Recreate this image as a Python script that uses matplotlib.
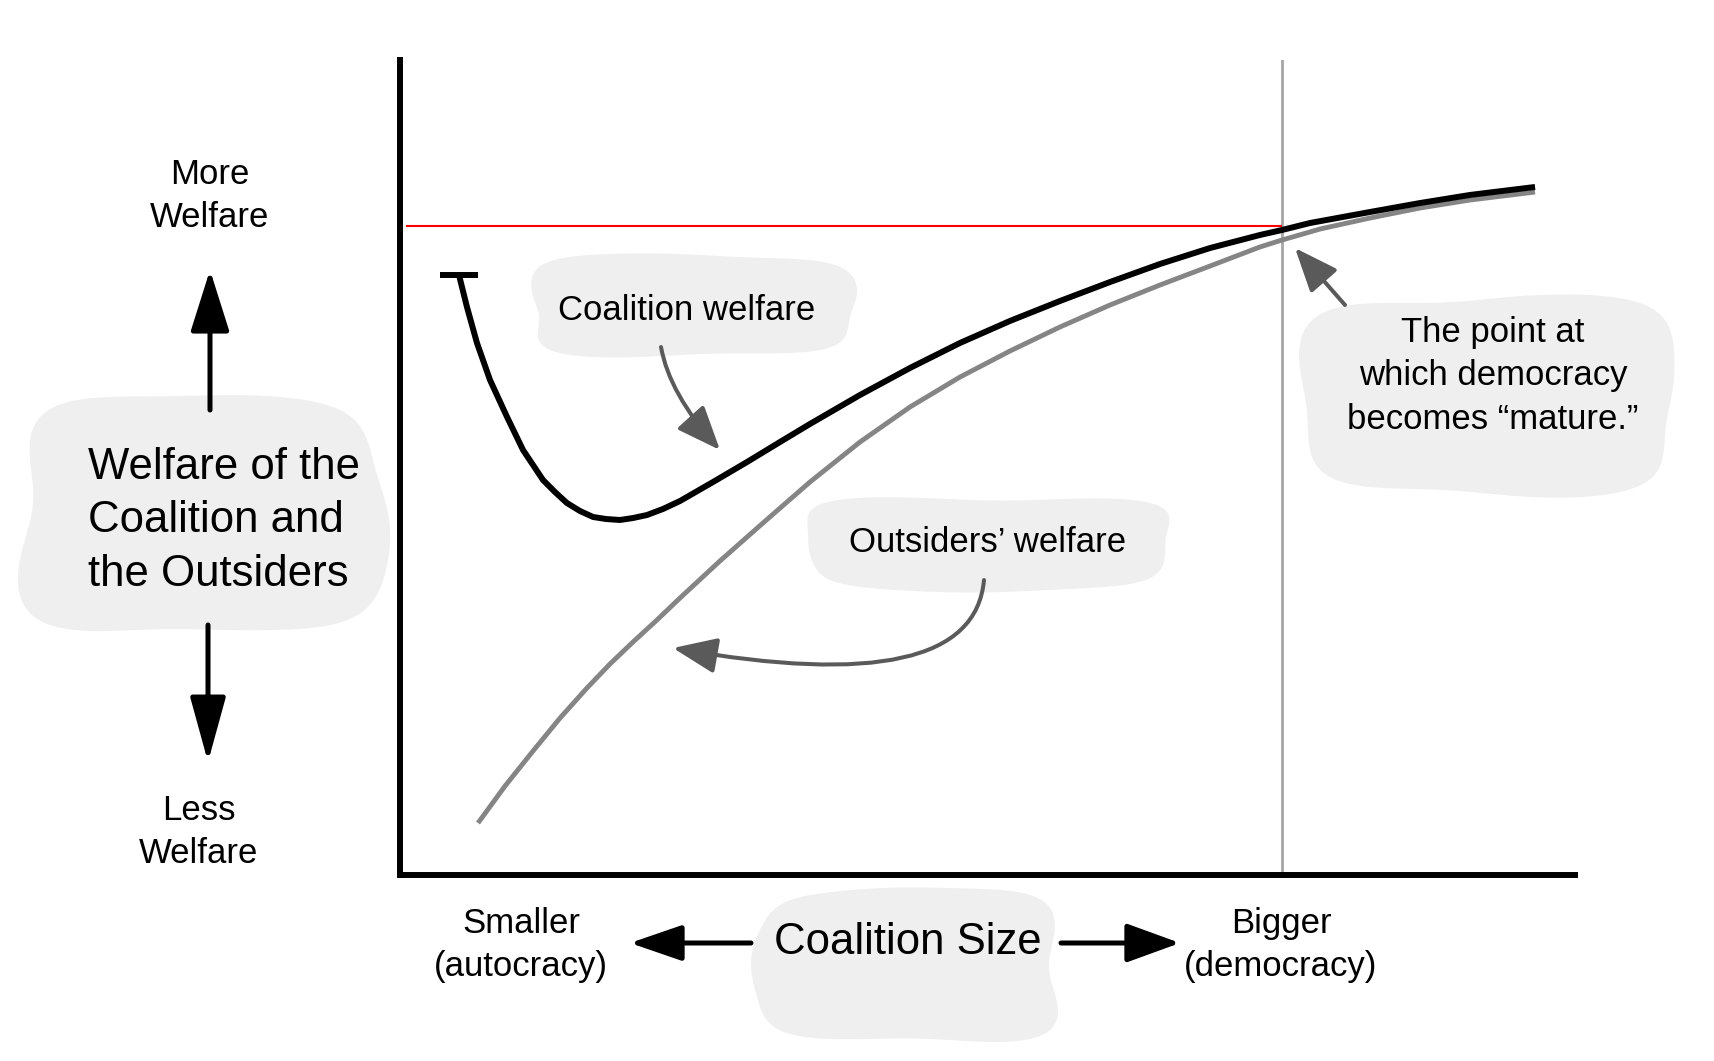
import numpy as np
import matplotlib
matplotlib.use("Agg")
import matplotlib.pyplot as plt
from matplotlib.patches import Polygon, FancyArrowPatch

# coalition size (0-100) vs welfare (0-100)
coalition_x = [5.02, 5.70, 6.55, 7.66, 9.11, 10.47, 12.17, 13.19, 14.21, 15.32, 16.43,
               17.53, 18.72, 19.83, 21.02, 22.38, 23.83, 26.64, 29.53, 32.34, 34.89,
               39.15, 43.40, 47.66, 51.91, 56.17, 60.43, 64.68, 68.94, 73.19, 75.06,
               77.45, 82.55, 86.81, 91.06, 96.60]
coalition_y = [73.62, 69.69, 65.28, 60.74, 56.20, 52.15, 48.47, 46.99, 45.64, 44.66, 43.93,
               43.68, 43.56, 43.80, 44.17, 44.91, 45.89, 48.22, 50.67, 53.13, 55.34,
               58.90, 62.21, 65.28, 67.98, 70.43, 72.76, 74.97, 76.93, 78.53, 79.14,
               80.00, 81.35, 82.45, 83.44, 84.42]

outsiders_x = [6.64, 8.94, 11.32, 13.62, 15.91, 17.87, 19.83, 21.87, 23.83, 27.23, 30.89,
               34.89, 39.15, 43.40, 47.66, 51.91, 56.17, 60.43, 64.68, 68.94, 73.19,
               75.06, 78.30, 82.55, 86.81, 91.06, 96.60]
outsiders_y = [6.38, 10.92, 15.21, 19.26, 22.94, 25.89, 28.59, 31.29, 33.99, 38.53, 43.19,
               48.22, 53.13, 57.42, 61.10, 64.29, 67.24, 69.94, 72.39, 74.72, 77.06,
               77.91, 79.26, 80.61, 81.84, 82.82, 83.80]

mature_x = 75.1
mature_welfare = 79.6

FONT = "Liberation Sans"
BLOB = "#efefef"
ARROW_GREY = "#5a5a5a"

fig = plt.figure(figsize=(17.15, 10.61), dpi=100)

# background layer in pixel units for the hand-drawn labels
bg = fig.add_axes([0, 0, 1, 1])
bg.set_xlim(0, 1715)
bg.set_ylim(1061, 0)
bg.axis("off")

ax = fig.add_axes([400 / 1715, 186 / 1061, 1175 / 1715, 815 / 1061])
ax.set_facecolor("none")
ax.set_zorder(2)
ax.set_xlim(0, 100)
ax.set_ylim(0, 100)
ax.set_xticks([])
ax.set_yticks([])
for side in ["top", "right"]:
    ax.spines[side].set_visible(False)
for side in ["left", "bottom"]:
    ax.spines[side].set_linewidth(4.3)
    ax.spines[side].set_color("black")


def blob(cx, cy, w, h, phase):
    t = np.linspace(0, 2 * np.pi, 240, endpoint=False)
    p = 5.0
    r = (np.abs(np.cos(t)) ** p + np.abs(np.sin(t)) ** p) ** (-1 / p)
    wob = 1 + 0.035 * np.sin(3 * t + phase) + 0.02 * np.sin(5 * t + 2 * phase)
    xs = cx + w / 2 * r * np.cos(t) * wob
    ys = cy + h / 2 * r * np.sin(t) * wob
    bg.add_patch(Polygon(np.column_stack([xs, ys]), closed=True,
                         facecolor=BLOB, edgecolor="none", zorder=0))


def arrow(tail, tip, color, lw, hl, hw, conn="arc3,rad=0"):
    bg.add_patch(FancyArrowPatch(tail, tip, arrowstyle=f"-|>,head_length={hl},head_width={hw}",
                                 connectionstyle=conn, color=color, lw=lw,
                                 shrinkA=0, shrinkB=0, mutation_scale=1, zorder=3))


# bubbles
blob(203, 515, 357, 234, 0.6)
blob(691, 305, 318, 100, 1.8)
blob(987, 544, 357, 92, 2.9)
blob(1490, 395, 367, 195, 4.1)
blob(907, 965, 298, 151, 5.2)

# curves
ax.axvline(mature_x, color="#a6a6a6", lw=2, zorder=1)
ax.hlines(mature_welfare, 0.5, mature_x, color="red", lw=1.5, zorder=2)
ax.plot(outsiders_x, outsiders_y, color="#858585", lw=3.5, solid_capstyle="butt",
        solid_joinstyle="round", zorder=3)
ax.plot(coalition_x, coalition_y, color="black", lw=4.3, solid_capstyle="butt",
        solid_joinstyle="round", zorder=4)
ax.plot(coalition_x[:1], coalition_y[:1], marker="_", ms=27, mew=4.3, color="black", zorder=4)

# text
small = dict(fontsize=25, family=FONT, ha="center", va="center", linespacing=1.40, zorder=4)
big = dict(fontsize=31.5, family=FONT, va="center", linespacing=1.38, zorder=4)

bg.text(210, 196, "More\nWelfare", **small)
bg.text(199, 832, "Less\nWelfare", **small)
bg.text(88, 521, "Welfare of the\nCoalition and\nthe Outsiders", ha="left", **big)
bg.text(687, 310, "Coalition welfare", **small)
bg.text(988, 543, "Outsiders\u2019 welfare", **small)
bg.text(1493, 376, "The point at\nwhich democracy\nbecomes \u201cmature.\u201d", **small)
bg.text(521, 945, "Smaller\n(autocracy)", **small)
bg.text(908, 943, "Coalition Size", ha="center", **big)
bg.text(1281, 945, "Bigger\n(democracy)", **small)

# black direction arrows
arrow((210, 410), (210, 270), "black", 3.6, 38, 12)
arrow((208, 625), (208, 762), "black", 3.6, 40, 11)
arrow((751, 943), (630, 943), "black", 3.6, 32, 11)
arrow((1061, 943), (1180, 943), "black", 3.6, 33, 12)

# grey pointer arrows
arrow((661, 347), (720, 450), ARROW_GREY, 2.9, 27, 11, "angle3,angleA=100,angleB=132")
arrow((984, 580), (673, 648), ARROW_GREY, 2.9, 27, 11, "angle3,angleA=85,angleB=170")
arrow((1345, 305), (1295, 248), ARROW_GREY, 2.9, 27, 11)

fig.savefig("out.png", dpi=100)
